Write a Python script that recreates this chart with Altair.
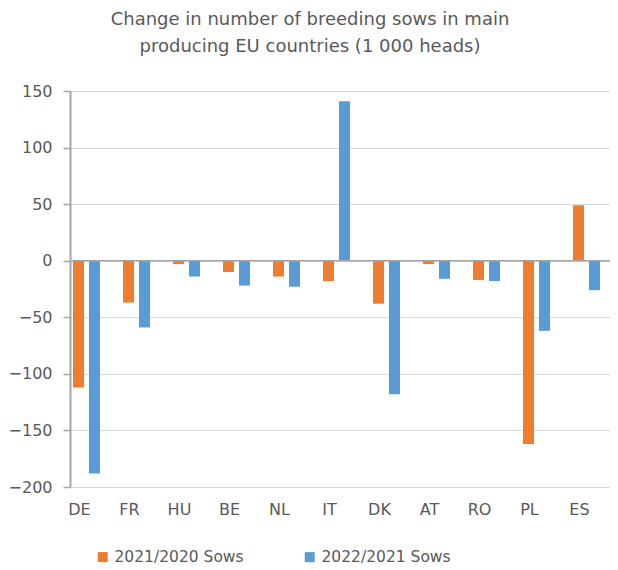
import altair as alt
import pandas as pd

countries = ["DE", "FR", "HU", "BE", "NL", "IT", "DK", "AT", "RO", "PL", "ES"]
series = ["2021/2020 Sows", "2022/2021 Sows"]
sows_2021_2020 = [-112, -37, -3, -10, -14, -18, -38, -3, -17, -162, 49]
sows_2022_2021 = [-188, -59, -14, -22, -23, 141, -118, -16, -18, -62, -26]
colors = ["#ED7D31", "#5B9BD5"]

rows = []
for c, a, b in zip(countries, sows_2021_2020, sows_2022_2021):
    rows.append({"country": c, "series": series[0], "value": a})
    rows.append({"country": c, "series": series[1], "value": b})
df = pd.DataFrame(rows)

FONT = "DejaVu Sans"
TXT = "#595959"

bars = alt.Chart(df).mark_bar().encode(
    x=alt.X("country:N", sort=countries, title=None,
            scale=alt.Scale(paddingInner=0.46, paddingOuter=0.13, align=0.23),
            axis=alt.Axis(domain=False, ticks=False, labelAngle=0, labelPadding=14,
                          labelOffset=-7, labelFontSize=16, labelColor=TXT, labelFont=FONT)),
    xOffset=alt.XOffset("series:N", sort=series, scale=alt.Scale(paddingInner=0.31)),
    y=alt.Y("value:Q", title=None,
            scale=alt.Scale(domain=[-200, 150], nice=False),
            axis=alt.Axis(values=[-200, -150, -100, -50, 0, 50, 100, 150],
                          grid=True, gridColor="#d9d9d9", gridWidth=1.2,
                          domain=True, domainColor="#a6a6a6", domainWidth=2,
                          ticks=True, tickColor="#a6a6a6", tickSize=7, tickWidth=1.5,
                          labelPadding=11, labelFontSize=16, labelColor=TXT, labelFont=FONT)),
    color=alt.Color("series:N", sort=series, title=None,
                    scale=alt.Scale(domain=series, range=colors),
                    legend=alt.Legend(orient="none", direction="horizontal",
                                      legendX=25, legendY=458,
                                      symbolType="square", symbolSize=100,
                                      symbolStrokeWidth=0, labelFontSize=15.5,
                                      labelColor=TXT, labelFont=FONT,
                                      labelOffset=4, columnPadding=58)),
)

zero = alt.Chart(pd.DataFrame({"z": [0]})).mark_rule(color="#a6a6a6", strokeWidth=1.5).encode(
    y="z:Q"
)

chart = alt.layer(bars, zero).properties(
    width=540,
    height=396,
    autosize=alt.AutoSizeParams(type="none"),
    padding={"left": 62, "top": 83, "right": 0, "bottom": 78},
    title=alt.TitleParams(
        text=["Change in number of breeding sows in main",
              "producing EU countries (1 000 heads)"],
        fontSize=18, font=FONT, fontWeight="normal", color=TXT,
        anchor="middle", dx=-30, offset=27, lineHeight=27,
    ),
).configure_view(stroke=None)

chart.save("out.html", embed_options={"renderer": "svg", "actions": False})
